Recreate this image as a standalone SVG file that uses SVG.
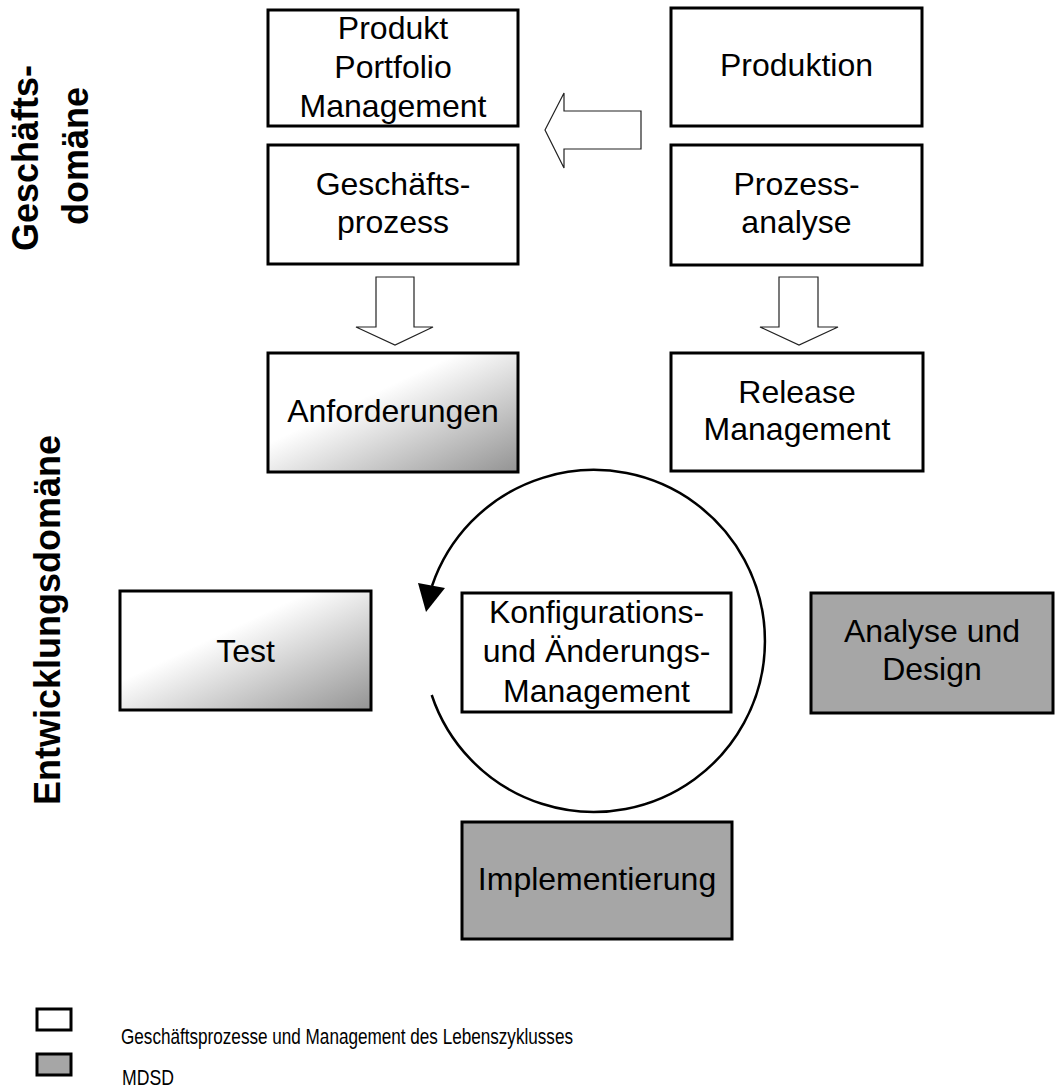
<svg xmlns="http://www.w3.org/2000/svg" width="1055" height="1088" viewBox="0 0 1055 1088">
  <style>
    .box { stroke: #000; stroke-width: 3; stroke-linejoin: miter; }
    .plain { fill: #fff; }
    .mdsd { fill: #a6a6a6; }
    .grad { fill: url(#fade); }
    .lbl { font-family: "Liberation Sans", Arial, sans-serif; font-size: 32px; fill: #000; text-anchor: middle; }
    .side { font-family: "Liberation Sans", Arial, sans-serif; font-size: 36px; font-weight: bold; fill: #000; text-anchor: middle; }
    .legend { font-family: "Liberation Sans Narrow", "Liberation Sans", Arial, sans-serif; font-size: 22px; fill: #000; }
    .block { fill: #fff; stroke: #222; stroke-width: 1.2; stroke-linejoin: miter; }
    .cycle { fill: none; stroke: #000; stroke-width: 2.5; }
  </style>
  <defs>
    <linearGradient id="fade" x1="0" y1="0" x2="1" y2="1">
      <stop offset="0" stop-color="#ffffff"/>
      <stop offset="0.38" stop-color="#ffffff"/>
      <stop offset="1" stop-color="#939393"/>
    </linearGradient>
  </defs>

  <!-- domain captions -->
  <g id="caption-business">
    <text class="side" transform="translate(38,158) rotate(-90)">Geschäfts-</text>
    <text class="side" transform="translate(88,156) rotate(-90)">domäne</text>
  </g>
  <g id="caption-development">
    <text class="side" transform="translate(60,620) rotate(-90)">Entwicklungsdomäne</text>
  </g>

  <!-- connectors: block arrows and the change-management cycle -->
  <g id="connectors">
    <polygon class="block" points="545,130 564,93 564,111 641,111 641,149 564,149 564,168"/>
    <polygon class="block" points="376,277 414,277 414,327 433,327 395,345 356,327 376,327"/>
    <polygon class="block" points="779,277 818,277 818,327 838,327 799,345 760,327 779,327"/>
    <path class="cycle" d="M431.7,695 A171,171 0 1 0 432,586"/>
    <polygon points="418,583 445,588 426,612" fill="#000"/>
  </g>

  <g id="portfolio">
    <rect class="box plain" x="268" y="10" width="250" height="116"/>
    <text class="lbl" x="393" y="39">Produkt</text>
    <text class="lbl" x="393" y="77.5">Portfolio</text>
    <text class="lbl" x="393" y="116.5">Management</text>
  </g>
  <g id="geschaeftsprozess">
    <rect class="box plain" x="268" y="145" width="250" height="119"/>
    <text class="lbl" x="393" y="195">Geschäfts-</text>
    <text class="lbl" x="393" y="233">prozess</text>
  </g>
  <g id="produktion">
    <rect class="box plain" x="671" y="8" width="251" height="118"/>
    <text class="lbl" x="796.5" y="76">Produktion</text>
  </g>
  <g id="prozessanalyse">
    <rect class="box plain" x="671" y="145" width="251" height="120"/>
    <text class="lbl" x="796.5" y="195">Prozess-</text>
    <text class="lbl" x="796.5" y="233">analyse</text>
  </g>
  <g id="anforderungen">
    <rect class="box grad" x="268" y="353" width="250" height="119"/>
    <text class="lbl" x="393" y="422">Anforderungen</text>
  </g>
  <g id="release">
    <rect class="box plain" x="671" y="353" width="252" height="118"/>
    <text class="lbl" x="797" y="403">Release</text>
    <text class="lbl" x="797" y="440">Management</text>
  </g>
  <g id="test">
    <rect class="box grad" x="120" y="591" width="251" height="119"/>
    <text class="lbl" x="245.5" y="662">Test</text>
  </g>
  <g id="konfiguration">
    <rect class="box plain" x="462" y="593" width="269" height="119"/>
    <text class="lbl" x="596.5" y="623">Konfigurations-</text>
    <text class="lbl" x="596.5" y="662">und Änderungs-</text>
    <text class="lbl" x="596.5" y="702">Management</text>
  </g>
  <g id="analyse-design">
    <rect class="box mdsd" x="811" y="593" width="242" height="120"/>
    <text class="lbl" x="932" y="642">Analyse und</text>
    <text class="lbl" x="932" y="680">Design</text>
  </g>
  <g id="implementierung">
    <rect class="box mdsd" x="462" y="822" width="270" height="117"/>
    <text class="lbl" x="597" y="890">Implementierung</text>
  </g>

  <!-- legend -->
  <g id="legend-lifecycle">
    <rect class="box plain" x="37" y="1009" width="34" height="21"/>
    <text class="legend" x="121" y="1044" textLength="452" lengthAdjust="spacingAndGlyphs">Geschäftsprozesse und Management des Lebenszyklusses</text>
  </g>
  <g id="legend-mdsd">
    <rect class="box mdsd" x="37" y="1054" width="34" height="21"/>
    <text class="legend" x="122" y="1085" textLength="52" lengthAdjust="spacingAndGlyphs">MDSD</text>
  </g>
</svg>
